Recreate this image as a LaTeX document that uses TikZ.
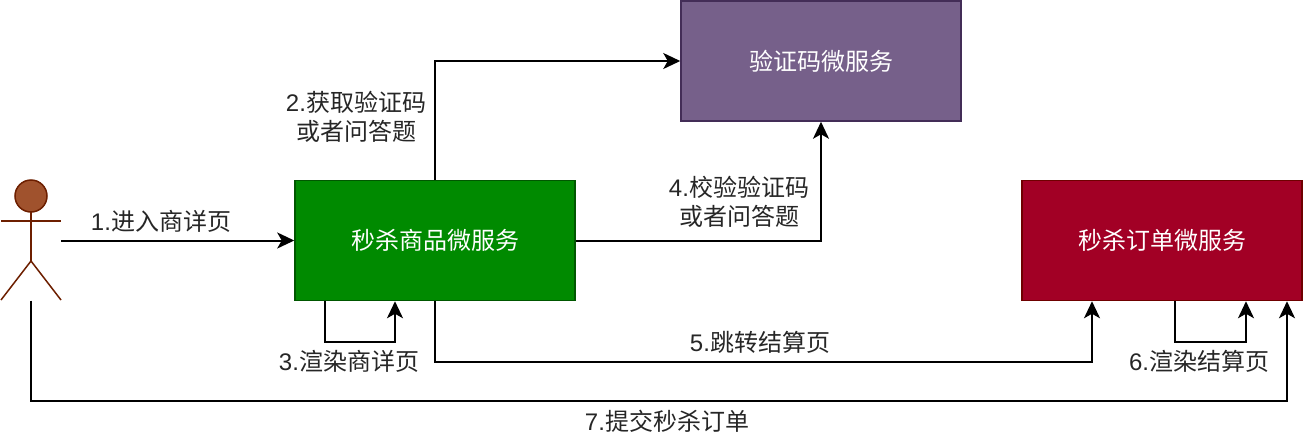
\documentclass[tikz,border=0pt]{standalone}
\usepackage{fontspec}
\setmainfont{Noto Sans CJK SC}
\newfontfamily\lat{Liberation Sans}
\usetikzlibrary{arrows.meta,calc}
\definecolor{gfill}{HTML}{008A00}
\definecolor{gline}{HTML}{005700}
\definecolor{pfill}{HTML}{76608A}
\definecolor{pline}{HTML}{432D57}
\definecolor{rfill}{HTML}{A20025}
\definecolor{rline}{HTML}{6F0000}
\definecolor{afill}{HTML}{A0522D}
\definecolor{aline}{HTML}{6D1F00}
\begin{document}
\begin{tikzpicture}[x=1pt,y=-1pt,
  svc/.style={draw, line width=1.5pt, minimum width=280pt, minimum height=120pt,
    inner sep=0pt, text=white, font=\fontsize{24}{29}\selectfont},
  arr/.style={draw, line width=2pt, -{Stealth[length=17pt,width=16pt,inset=4.5pt]}},
  lbl/.style={align=center, inner sep=0pt, text=black!85, font=\fontsize{24}{28.5}\selectfont}]
\useasboundingbox (0,0) rectangle (1304,442);
% boxes
\node[svc, fill=gfill, draw=gline] (green) at (435,240.5) {秒杀商品微服务};
\node[svc, fill=pfill, draw=pline] (purple) at (821,61) {验证码微服务};
\node[svc, fill=rfill, draw=rline] (red) at (1162,240.5) {秒杀订单微服务};
% actor
\node[minimum width=60pt, minimum height=120pt, inner sep=0pt] (actor) at (31,240.5) {};
\begin{scope}[draw=aline, line width=1.5pt]
  \draw[fill=afill] (31,196) circle (16);
  \draw (31,212) -- (31,261);
  \draw (1,221) -- (61,221);
  \draw (1,300) -- (31,261) -- (61,300);
\end{scope}
% connectors
\draw[arr] (actor.east) -- (green.west);
\draw[arr] (green.north) |- (purple.west);
\draw[arr] (green.east) -| (purple.south);
\draw[arr] ([xshift=-110pt]green.south) -- ++(0,41) -| ([xshift=-40pt]green.south);
\draw[arr] (green.south) -- ++(0,61) -| ([xshift=-70pt]red.south);
\draw[arr] ([xshift=13pt]red.south) -- ++(0,41) -| ([xshift=84pt]red.south);
\draw[arr] (actor.south) -- ++(0,100) -| ([xshift=125pt]red.south);
% labels
\node[lbl] (l1) at (161,221) {{\lat 1.}进入商详页};
\node[lbl] (l2) at (356,117) {{\lat 2.}获取验证码\\或者问答题};
\node[lbl] (l3) at (349,361) {{\lat 3.}渲染商详页};
\node[lbl] (l4) at (739,202) {{\lat 4.}校验验证码\\或者问答题};
\node[lbl] (l5) at (760,342) {{\lat 5.}跳转结算页};
\node[lbl] (l6) at (1199,361) {{\lat 6.}渲染结算页};
\node[lbl] (l7) at (667,421) {{\lat 7.}提交秒杀订单};
\end{tikzpicture}
\end{document}
